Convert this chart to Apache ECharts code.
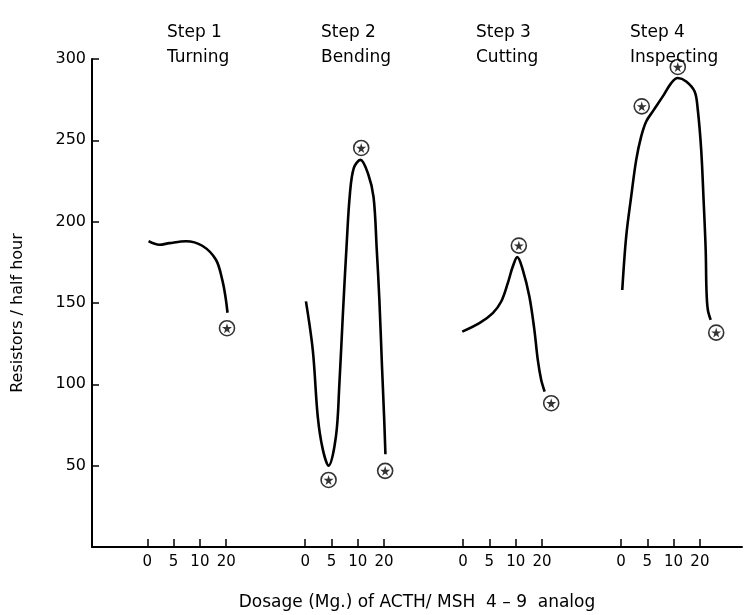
<!DOCTYPE html>
<html>
<head>
<meta charset="UTF-8">
<title>Resistors per half hour</title>
<script src="https://cdn.jsdelivr.net/npm/echarts@6/dist/echarts.min.js"></script>
<style>
  html, body { margin: 0; padding: 0; background: #fff; }
  #main { width: 746px; height: 615px; }
</style>
</head>
<body>
<div id="main"></div>
<script>
// x axis: dose slots, each step has 4 doses (0, 5, 10, 20), steps 6 slots apart
var doseLabels = ['0', '5', '10', '20'];
var doseSlots = [0, 1, 2, 3, 6, 7, 8, 9, 12, 13, 14, 15, 18, 19, 20, 21];
var stepTitles = ['Step 1\nTurning', 'Step 2\nBending', 'Step 3\nCutting', 'Step 4\nInspecting'];

// hand drawn curves, [slot, resistors / half hour]
var curve1 = [[0.05, 188], [0.46, 185.8], [0.84, 186.8], [1.47, 188], [2.09, 185.2],
  [2.61, 176.6], [2.85, 164.2], [2.97, 154], [3.05, 144]];
var curve2 = [[6.03, 151], [6.29, 121], [6.48, 80], [6.67, 60], [6.89, 50], [7.17, 68],
  [7.3, 100], [7.43, 142], [7.58, 187], [7.7, 217], [7.85, 233], [8.1, 238], [8.4, 229],
  [8.6, 215], [8.72, 183], [8.82, 152], [8.92, 111], [9.0, 80], [9.05, 57]];
var curve3 = [[11.97, 132.4], [12.62, 137.6], [13.13, 143.8], [13.45, 150.9], [13.7, 162.2],
  [13.89, 172.4], [14.06, 178.2], [14.27, 170.4], [14.52, 154], [14.71, 133.5],
  [14.84, 115], [14.97, 102.7], [15.1, 95.5]];
var curve4 = [[18.05, 158], [18.2, 191], [18.39, 215.5], [18.58, 238], [18.77, 252.4],
  [18.96, 261.6], [19.21, 267.8], [19.59, 277], [19.91, 285.2], [20.16, 288.3],
  [20.48, 286.2], [20.8, 280], [20.92, 268.8], [21.05, 244], [21.14, 213.5],
  [21.22, 182.7], [21.25, 158], [21.3, 146], [21.41, 139.6]];

// starred (circled) points
var stars = [[3.03, 134.5], [6.89, 41.2], [8.13, 245.3], [9.04, 46.8],
  [14.12, 185.3], [15.35, 88.4], [18.79, 270.9], [20.16, 295.1], [21.62, 131.8]];

var titleLeft = [162, 316, 471, 625];
var FONT = 'DejaVu Sans';
var starPath = 'path://M50,0 L61,35 L98,35 L68,57 L79,91 L50,70 L21,91 L32,57 L2,35 L39,35 Z';

var chart = echarts.init(document.getElementById('main'));

var series = [curve1, curve2, curve3, curve4].map(function (c) {
  return {
    type: 'line',
    data: c,
    smooth: 0.35,
    showSymbol: false,
    silent: true,
    lineStyle: { color: '#000', width: 2.6 }
  };
});
series.push({
  type: 'scatter',
  data: stars,
  symbol: 'circle',
  symbolSize: 15,
  itemStyle: { color: '#fff', borderColor: '#000', borderWidth: 1.6 },
  z: 3
});
series.push({
  type: 'scatter',
  data: stars,
  symbol: starPath,
  symbolSize: 10,
  itemStyle: { color: '#000' },
  z: 4
});

chart.setOption({
  animation: false,
  backgroundColor: '#fff',
  title: stepTitles.map(function (t, i) {
    return {
      text: t,
      left: titleLeft[i],
      top: 15,
      textStyle: { fontFamily: FONT, fontSize: 17, fontWeight: 'normal', color: '#000', lineHeight: 25 }
    };
  }),
  grid: { left: 92, right: 4, top: 59, bottom: 68, outerBoundsMode: 'none' },
  xAxis: {
    type: 'value',
    min: -2.1,
    max: 22.6,
    splitLine: { show: false },
    axisLine: { onZero: false, lineStyle: { color: '#000', width: 2 } },
    axisTick: { customValues: doseSlots, inside: true, length: 8, lineStyle: { color: '#000', width: 1.5 } },
    axisLabel: {
      customValues: doseSlots,
      margin: 8,
      fontFamily: FONT, fontSize: 15, color: '#000',
      formatter: function (v) { return doseLabels[Math.round(v) % 6]; }
    },
    name: 'Dosage (Mg.) of ACTH/ MSH  4 – 9  analog',
    nameLocation: 'middle',
    nameGap: 47,
    nameTextStyle: { fontFamily: FONT, fontSize: 17, color: '#000' }
  },
  yAxis: {
    type: 'value',
    min: 0,
    max: 300,
    interval: 50,
    splitLine: { show: false },
    axisLine: { onZero: false, lineStyle: { color: '#000', width: 2 } },
    axisTick: { inside: true, length: 7, lineStyle: { color: '#000', width: 1.5 } },
    axisLabel: {
      fontFamily: FONT, fontSize: 16, color: '#000', margin: 6,
      formatter: function (v) { return v === 0 ? '' : String(v); }
    },
    name: 'Resistors / half hour',
    nameLocation: 'middle',
    nameGap: 66,
    nameRotate: 90,
    nameTextStyle: { fontFamily: FONT, fontSize: 16, color: '#000', padding: [0, 20, 0, 0] }
  },
  series: series
});
</script>
</body>
</html>
